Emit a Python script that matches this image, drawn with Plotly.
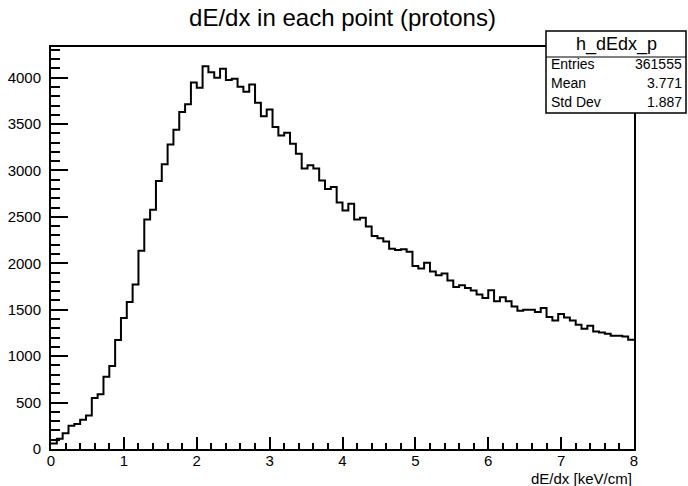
import numpy as np
import plotly.graph_objects as go

# Histogram h_dEdx_p: 100 bins on [0, 8] keV/cm
x_min, x_max, n_bins = 0.0, 8.0, 100
counts = [
    60, 110, 170, 250, 270, 315, 360, 550, 590, 778,
    894, 1175, 1410, 1584, 1771, 2136, 2472, 2578, 2887, 3066,
    3280, 3440, 3631, 3714, 3949, 3892, 4124, 4057, 4000, 4095,
    3974, 3988, 3902, 3848, 3927, 3730, 3584, 3657, 3469, 3378,
    3407, 3288, 3180, 3021, 3057, 3021, 2891, 2800, 2822, 2655,
    2570, 2642, 2472, 2490, 2397, 2295, 2270, 2234, 2158, 2143,
    2151, 2126, 1970, 1945, 2006, 1912, 1872, 1891, 1815, 1746,
    1764, 1735, 1706, 1663, 1627, 1710, 1591, 1634, 1591, 1536,
    1490, 1500, 1500, 1475, 1519, 1421, 1385, 1454, 1417, 1385,
    1338, 1295, 1327, 1266, 1255, 1241, 1219, 1219, 1212, 1176,
]
hist_name = "h_dEdx_p"
stat_labels = ["Entries", "Mean", "Std Dev"]
stat_values = ["361555", "3.771", "1.887"]
title_text = "dE/dx in each point (protons)"
x_title = "dE/dx [keV/cm]"

edges = np.linspace(x_min, x_max, n_bins + 1)
y_step = list(counts) + [counts[-1]]
y_top = 1.05 * max(counts)

FONT = "Liberation Sans, Arial, Helvetica, sans-serif"

fig = go.Figure()
fig.add_trace(go.Scatter(
    x=edges, y=y_step, mode="lines", line_shape="hv",
    line=dict(color="black", width=2), showlegend=False,
))

W, H = 688, 486
L, R, T, B = 51, 54, 47, 37
pw, ph = W - L - R, H - T - B


def px(xp):
    return (xp - L) / pw


def py(yp):
    return (H - B - yp) / ph


fig.update_layout(
    width=W, height=H,
    margin=dict(l=L, r=R, t=T, b=B, autoexpand=False),
    paper_bgcolor="white", plot_bgcolor="white",
    font=dict(family=FONT, size=15, color="black"),
    title=dict(text=title_text, x=0.5, xref="paper", xanchor="center",
               y=1 - 18 / H, yref="container", yanchor="middle",
               font=dict(size=24, family=FONT, color="black")),
    xaxis=dict(
        range=[x_min, x_max], showgrid=False, automargin=False,
        showline=True, linecolor="black", linewidth=2, mirror=True,
        ticks="inside", ticklen=12, tickwidth=2, tickcolor="#000000", dtick=1,
        minor=dict(ticks="inside", ticklen=6, tickwidth=2,
                   tickcolor="#000000", dtick=0.2, showgrid=False),
        ticklabelstandoff=-3,
    ),
    yaxis=dict(
        range=[0, y_top], showgrid=False, automargin=False,
        showline=True, linecolor="black", linewidth=2, mirror=True,
        ticks="inside", ticklen=17, tickwidth=2, tickcolor="#000000", dtick=500,
        minor=dict(ticks="inside", ticklen=9, tickwidth=2,
                   tickcolor="#000000", dtick=100, showgrid=False),
        ticklabelstandoff=5,
    ),
)

# x-axis title, right-aligned under the axis end
fig.add_annotation(text=x_title, xref="paper", yref="paper",
                   x=1.0, y=py(478), xanchor="right", yanchor="middle",
                   showarrow=False, font=dict(size=15, family=FONT))

# statistics box
bx0, bx1 = px(546), px(686)
by0, by1, bsep = py(113), py(31), py(57)
fig.add_shape(type="rect", xref="paper", yref="paper",
              x0=bx0, x1=bx1, y0=by0, y1=by1,
              fillcolor="white", line=dict(color="black", width=1.5), layer="above")
fig.add_shape(type="line", xref="paper", yref="paper",
              x0=bx0, x1=bx1, y0=bsep, y1=bsep,
              line=dict(color="black", width=1), layer="above")
fig.add_annotation(text=hist_name, xref="paper", yref="paper",
                   x=(bx0 + bx1) / 2, y=py(44), xanchor="center", yanchor="middle",
                   showarrow=False, font=dict(size=18, family=FONT))
row_y = [64, 83, 102]
for lab, val, ry in zip(stat_labels, stat_values, row_y):
    fig.add_annotation(text=lab, xref="paper", yref="paper",
                       x=px(549), y=py(ry), xanchor="left", yanchor="middle",
                       showarrow=False, font=dict(size=14, family=FONT))
    fig.add_annotation(text=val, xref="paper", yref="paper",
                       x=px(684), y=py(ry), xanchor="right", yanchor="middle",
                       showarrow=False, font=dict(size=14, family=FONT))

fig.write_html("out.html")
